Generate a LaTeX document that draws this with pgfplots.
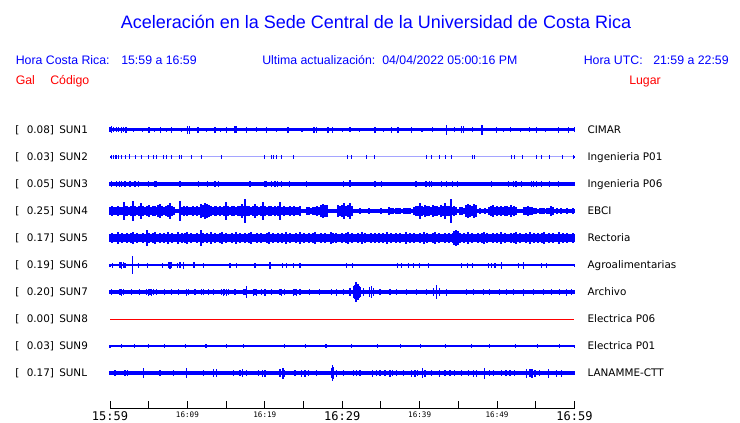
\documentclass[border=0pt]{standalone}
\usepackage{fontspec}
\setmainfont{Liberation Sans}
\newfontfamily\dejavu{DejaVu Sans}
\newfontfamily\dejamono{DejaVu Sans Mono}
\usepackage{pgfplots}
\pgfplotsset{compat=1.18}
\usepackage{pgfplotstable}

% ---- sparse traces: t (minutes after 15:59), a (half amplitude, px) ----
\pgfplotstableread{
t a
0 2.5
0.22 3.5
0.5 2.5
0.8 2.5
1.1 2.5
1.51 3
1.8 2.5
2.07 3
3.0 2
4.2 2.2
5.04 3
5.8 2.2
6.55 3
7.3 2.2
7.97 3
9.2 2.2
10.0 4
10.24 4
11.37 3
12.5 2.2
13.56 3
14.3 2.2
15.07 3
16.15 3.5
16.37 3.5
17.66 3
18.95 2.5
20.24 3
21.5 2.2
22.99 3
24.8 2.2
26.35 3
26.7 3
28.16 3
28.8 3
30.0 2.2
31.0 2.5
32.2 2.2
34.23 3
35.3 2.2
36.39 3
37.2 3
38.97 3
40.3 2.2
41.6 2.5
43.49 5
44.5 2.5
45.43 3.5
45.72 3.5
46.8 2.5
48.05 5
49.95 3
50.8 2.2
51.7 2.5
53.0 2.2
54.2 2.5
55.12 3
56.3 2.2
57.9 3
59.2 3
60 2.5
}\sunone

\pgfplotstableread{
t a
0 0.5
0.22 2
0.43 2
0.65 2
0.90 2
1.16 2
1.51 2
1.94 2
2.58 2.5
3.23 2
4.09 2
4.91 2
5.56 2
6.03 2
6.85 2
7.32 2
7.97 2
9.04 2
9.26 2
10.55 2
11.84 2
14.42 2
20.02 2
20.89 2
21.18 2
21.53 2
22.18 2
23.64 2
30.74 2
31.22 2
33.07 2
34.23 2
40.82 2
41.55 2
42.62 2
43.39 2
44.12 2
46.83 2
47.13 2
51.88 2
52.31 2
53.31 2
55.12 2
55.76 2
56.83 2
58.47 2
59.84 2
60 0.5
}\suntwo

\pgfplotstableread{
t a
0 2
0.22 3
0.78 3
1.20 3
1.51 3
1.94 3
2.58 3
3.23 3
3.66 3
4.95 3
5.81 3
6.03 3
9.04 3
11.41 3
12.57 3
13.56 3
13.99 3
18.08 3
20.02 3
20.24 3
20.89 3
21.31 3
21.66 3
22.18 3
23.16 3
25.41 3
30.13 3
31.0 3.5
34.23 3
35.09 3
39.53 3
40.82 3
41.33 3
41.55 3
42.84 3
43.49 3
44.27 3
44.86 3
49.3 3
51.45 3
52.09 3
52.44 3
53.18 3
54.47 3
54.68 3
55.12 3
55.76 3
56.83 3
57.9 3
60 2
}\sunthree

\pgfplotstableread{
t a
0 1.5
0.34 2.5
1.29 3
1.5 3.5
1.72 3
1.94 2.5
2.88 9
3.66 2.5
4.82 2.5
6.8 2.5
7.53 3
7.75 3.5
7.97 3
8.7 2.5
9.04 3
9.47 3.5
10.85 3
12.05 2.5
15.5 2.5
16.37 2.5
18.73 2.5
20.67 3.5
22.3 2.5
22.82 2.5
23.68 2.5
24.54 2.5
30.57 2.5
31.35 2.5
37.11 2.5
37.67 2.5
38.53 2.5
39.18 2.5
39.96 2.5
41.12 2.5
45.43 2.5
46.2 2.5
46.85 2.5
48.87 2.5
49.3 2.5
49.73 2.5
50.59 3.5
52.74 2.5
53.39 3.5
55.76 2.5
56.41 2.5
60 1.5
}\sunsix

\pgfplotstableread{
t a
0 2
0.22 3
1.29 3
1.5 3.5
1.72 3
2.8 3
3.87 3
4.74 3
4.95 3.5
5.17 3
5.38 3.5
5.6 3
6.03 3
7.1 3
7.97 3
8.83 3
9.9 3.5
10.1 3
10.98 3
11.84 3
12.05 3
12.7 3
13.35 3
14.42 3
14.64 3.5
14.85 3
15.07 3.5
15.28 3
16.15 3
17.22 3
17.44 3
17.66 6
18.51 3.5
18.73 3
18.95 3.5
19.59 3
20.02 3.5
20.88 3
21.96 3
22.17 3.5
22.6 3
23.68 3.5
23.9 3
24.11 3.5
24.54 3
25.83 3
27.12 3
28.63 3
29.28 3.5
30.14 3
31.0 4
31.43 6
31.65 7
31.78 10
31.95 8
32.07 8
32.22 6
32.37 5
32.72 4
33.58 5
33.8 6
34.02 4
34.88 3
36.17 3
37.03 3
38.32 3
39.61 3
40.9 3
41.76 4
42.19 7
42.62 4
43.48 3.5
46.06 3
46.92 3
48.21 3
49.07 3
50.36 3
51.23 3
52.09 3
53.38 3.5
54.67 3
55.96 3
57.04 3
58.11 3
58.97 3.5
59.62 3
60 2
}\sunseven

\pgfplotstableread{
t a
0 1.5
1.5 2
3.2 2
5.0 2
7.1 2
9.8 2
12.4 2
15.0 2
17.2 2
22.5 2
25.3 2
27.9 2
31.2 2
34.6 2
37.5 2
40.1 2
43.3 2
46.7 2
49.0 2
52.4 2
55.2 2
58.1 2
60 1.5
}\sunnine

\pgfplotstableread{
t a
0 2
0.65 3
1.94 3
2.32 3
4.3 5
6.46 3
8.18 3
9.9 5
12.05 3
13.35 4
13.78 4
15.93 3
16.79 3
17.14 4
17.66 3
19.16 3
19.72 3.5
20.02 3.5
21.96 4
22.35 5.5
22.6 3.5
23.9 3
24.76 3.5
25.19 3.5
25.61 3
26.7 3
28.64 5
28.8 8.3
28.93 6
29.28 3.5
30.13 3
31.43 3
31.86 3
32.29 3
33.88 3.5
34.45 3
34.88 3
35.52 3
36.17 3.5
36.55 3
37.03 3
37.88 3
38.97 3.5
39.4 3.5
39.78 3
40.34 5
40.69 3.5
41.55 3
42.62 3.5
43.27 3
43.92 3
44.56 3
45.43 3
46.28 3
46.93 3.5
47.36 3.5
48.35 5.5
49.08 3
49.51 3
50.59 3
51.15 3
51.67 3
52.31 3
53.82 4.5
54.25 4
54.51 4.5
54.9 3.5
55.54 3
56.61 4.5
57.7 3.5
58.34 3.5
60 2
}\sunl

% ---- dense traces: half amplitudes (px), one every 0.25 min (row i -> t=i/4) ----
\pgfplotstableread[row sep=\\]{a\\
4\\5\\4\\4\\5\\4\\4\\9\\
5\\5\\4\\5\\10\\
5\\4\\5\\8\\5\\4\\5\\6\\4\\5\\5\\4\\6\\7\\5\\4\\5\\6\\8\\5\\4\\
2\\2\\10\\
4\\5\\4\\5\\4\\4\\5\\4\\5\\4\\
7\\6\\8\\7\\6\\
5\\4\\5\\5\\4\\5\\4\\5\\9\\
5\\4\\5\\5\\4\\5\\5\\7\\5\\12\\
5\\5\\4\\5\\7\\5\\4\\5\\9\\5\\4\\5\\5\\4\\5\\4\\5\\9\\
4\\5\\4\\4\\5\\4\\5\\4\\4\\5\\
2\\2\\2\\
4\\4\\3\\4\\4\\5\\4\\
6\\7\\6\\6\\
2\\2\\2\\2\\2\\
6\\5\\6\\8\\5\\6\\8\\5\\
2\\2\\2\\3\\2\\2\\2\\2\\3\\2\\2\\2\\2\\2\\3\\2\\2\\2\\4\\
3\\3\\2\\3\\3\\3\\2\\3\\3\\3\\3\\2\\
4\\5\\5\\8\\5\\4\\6\\5\\5\\4\\6\\5\\5\\4\\6\\5\\8\\5\\5\\12\\
4\\5\\4\\2\\4\\4\\3\\
6\\7\\6\\5\\7\\6\\
2\\3\\2\\2\\3\\2\\
4\\5\\6\\4\\5\\4\\5\\4\\5\\5\\4\\6\\4\\5\\4\\
2\\2\\2\\
4\\4\\5\\4\\4\\
3\\3\\2\\3\\3\\3\\2\\3\\3\\
5\\4\\
2\\3\\2\\3\\2\\2\\3\\2\\2\\3\\2\\
}\sunfour

\pgfplotstableread[row sep=\\]{a\\
4\\5\\4\\4\\6\\4\\5\\4\\4\\5\\4\\5\\6\\4\\5\\4\\4\\5\\4\\8\\
5\\4\\5\\6\\4\\4\\5\\4\\5\\4\\6\\4\\5\\4\\4\\6\\4\\5\\4\\5\\
6\\4\\5\\4\\4\\5\\4\\8\\5\\4\\5\\4\\6\\4\\5\\4\\4\\5\\6\\4\\
5\\4\\4\\5\\4\\6\\4\\5\\4\\4\\5\\4\\5\\6\\4\\4\\5\\4\\5\\4\\
4\\5\\6\\4\\5\\4\\4\\5\\4\\5\\4\\6\\4\\5\\4\\4\\5\\4\\6\\4\\
5\\4\\4\\5\\4\\5\\6\\4\\4\\5\\4\\5\\4\\4\\6\\5\\4\\5\\4\\4\\
5\\4\\5\\6\\4\\5\\4\\4\\5\\4\\6\\4\\5\\4\\4\\5\\4\\5\\4\\5\\
4\\5\\4\\6\\4\\5\\4\\4\\5\\4\\5\\4\\4\\6\\4\\5\\4\\5\\4\\4\\
5\\4\\6\\4\\5\\4\\4\\5\\6\\4\\5\\4\\4\\5\\4\\5\\4\\5\\7\\8\\
7\\5\\4\\5\\4\\6\\4\\5\\4\\4\\5\\4\\5\\6\\4\\5\\4\\4\\5\\4\\
5\\4\\6\\4\\5\\4\\4\\5\\4\\5\\6\\4\\5\\4\\4\\5\\4\\6\\4\\5\\
4\\5\\4\\5\\6\\4\\4\\5\\4\\5\\4\\4\\6\\4\\5\\4\\5\\4\\4\\5\\
4\\
}\sunfive

\newcommand{\lab}{\dejavu\fontsize{7.8}{9}\selectfont}
\newcommand{\bigtick}{\dejamono\fontsize{9}{10}\selectfont}
\newcommand{\smalltick}{\dejamono\fontsize{5.7}{7}\selectfont}

\pgfplotsset{
  trace/.style 2 args={no marks, blue, line width=#1,
    error bars/.cd, y dir=both, y explicit, error mark=none,
    error bar style={blue, line width=#2}},
}

\begin{document}
\begin{tikzpicture}
% ---------- texts, in pixel units (origin top left) ----------
\begin{scope}[x=0.75pt,y=-0.75pt]
\path (0,0) rectangle (740,423);
\node[anchor=base, inner sep=0pt, text=blue, font=\fontsize{13.5}{16}\selectfont]
  at (376,28.5) {Aceleración en la Sede Central de la Universidad de Costa Rica};
\begin{scope}[every node/.style={anchor=base west, inner sep=0pt, font=\fontsize{9.25}{11}\selectfont}]
\node[text=blue] at (15.5,64.3) {Hora Costa Rica:};
\node[text=blue] at (121,64.3) {15:59 a 16:59};
\node[text=blue] at (262,64.3) {Ultima actualización:};
\node[text=blue] at (382,64.3) {04/04/2022 05:00:16 PM};
\node[text=blue] at (583.5,64.3) {Hora UTC:};
\node[text=blue] at (653,64.3) {21:59 a 22:59};
\node[text=red] at (15.5,84.3) {Gal};
\node[text=red] at (50,84.3) {Código};
\node[text=red] at (629,84.3) {Lugar};
\end{scope}
\foreach \y/\v/\c/\n in {130/0.08/SUN1/CIMAR, 157/0.03/SUN2/Ingenieria P01,
    184/0.05/SUN3/Ingenieria P06, 211/0.25/SUN4/EBCI, 238/0.17/SUN5/Rectoria,
    265/0.19/SUN6/Agroalimentarias, 292/0.20/SUN7/Archivo, 319/0.00/SUN8/Electrica P06,
    346/0.03/SUN9/Electrica P01, 373/0.17/SUNL/LANAMME-CTT}{
  \node[anchor=base west, inner sep=0pt, font=\lab] at (15,\y+3.7) {[};
  \node[anchor=base east, inner sep=0pt, font=\lab] at (54.3,\y+3.7) {\v]};
  \node[anchor=base west, inner sep=0pt, font=\lab] at (59,\y+3.7) {\c};
  \node[anchor=base west, inner sep=0pt, font=\lab] at (587.3,\y+3.7) {\n};
}
\end{scope}

% ---------- traces: x in minutes, y in pixels ----------
\begin{axis}[at={(82.5pt,-317.25pt)}, anchor=south west, scale only axis,
  width=348.375pt, height=317.25pt, xmin=0, xmax=60, ymin=0, ymax=423,
  y dir=reverse, hide axis, clip=false]
\addplot[trace={2.25pt}{0.8pt}] table[x=t, y expr=130, y error=a] {\sunone};
\addplot[trace={0.75pt}{0.75pt}] table[x=t, y expr=157, y error=a] {\suntwo};
\addplot[trace={2.5pt}{0.8pt}] table[x=t, y expr=184, y error=a] {\sunthree};
\addplot[trace={2.25pt}{1.5pt}] table[x index=0, y index=0, x expr=\coordindex/4, y expr=211, y error=a] {\sunfour};
\addplot[trace={5.25pt}{1.5pt}] table[x index=0, y index=0, x expr=\coordindex/4, y expr=238, y error=a] {\sunfive};
\addplot[trace={2.1pt}{0.8pt}] table[x=t, y expr=265, y error=a] {\sunsix};
\addplot[trace={2.5pt}{0.8pt}] table[x=t, y expr=292, y error=a] {\sunseven};
\addplot[red, no marks, line width=0.6pt] coordinates {(0,319) (60,319)};
\addplot[trace={2.1pt}{0.8pt}] table[x=t, y expr=346, y error=a] {\sunnine};
\addplot[trace={2.5pt}{0.8pt}] table[x=t, y expr=373, y error=a] {\sunl};
\end{axis}

% ---------- time axis ----------
\begin{axis}[at={(82.5pt,-306.75pt)}, anchor=south west, scale only axis,
  width=348.375pt, height=6.2pt, xmin=0, xmax=60, ymin=0, ymax=1,
  axis x line=bottom, axis y line=none, x axis line style={-},
  axis line style={black, line width=0.75pt},
  xtick={0,5,...,60}, tick align=inside, major tick length=6.2pt,
  tick style={black, line width=0.75pt},
  xticklabels={{\bigtick 15:59},{},{\smalltick 16:09},{},{\smalltick 16:19},{},
    {\bigtick 16:29},{},{\smalltick 16:39},{},{\smalltick 16:49},{},{\bigtick 16:59}},
  xticklabel style={anchor=north, inner sep=0pt, yshift=-2pt}]
\addplot[draw=none] coordinates {(0,0) (60,0)};
\end{axis}
\end{tikzpicture}
\end{document}
